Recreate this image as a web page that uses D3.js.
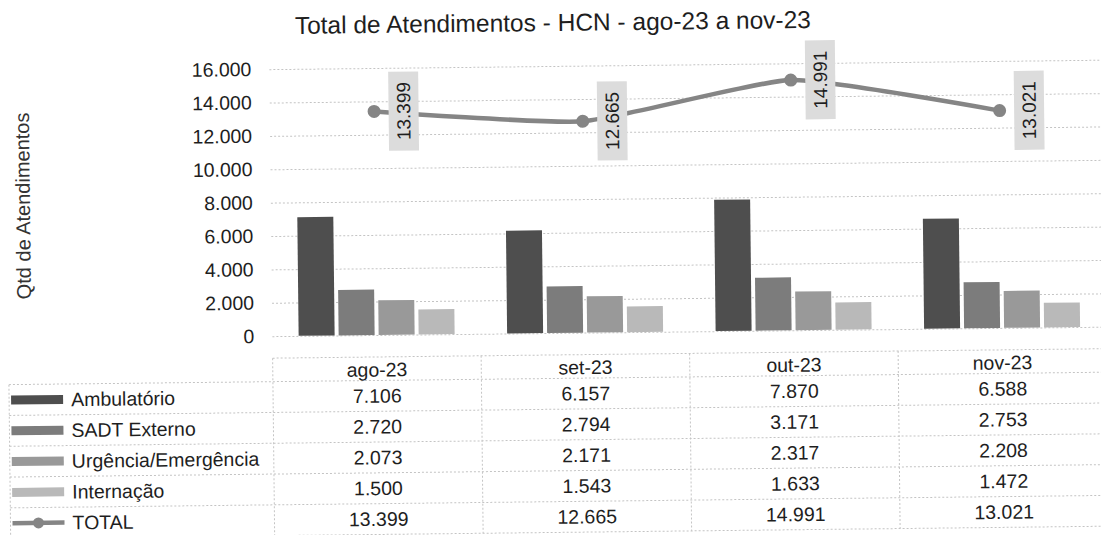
<!DOCTYPE html>
<html><head><meta charset="utf-8">
<script src="https://cdn.jsdelivr.net/npm/d3@7"></script>
<style>
html,body{margin:0;padding:0;background:#fff;}
svg{display:block;font-family:"Liberation Sans",Arial,sans-serif;}
</style></head><body>
<svg id="chart" width="1101" height="535"></svg>
<script>
// ---- data ----
const title = "Total de Atendimentos - HCN - ago-23 a nov-23";
const yTitle = "Qtd de Atendimentos";
const categories = ["ago-23", "set-23", "out-23", "nov-23"];
const seriesNames = ["Ambulatório", "SADT Externo", "Urgência/Emergência", "Internação"];
const ambulatorio = [7106, 6157, 7870, 6588];
const sadtExterno = [2720, 2794, 3171, 2753];
const urgencia = [2073, 2171, 2317, 2208];
const internacao = [1500, 1543, 1633, 1472];
const lineName = "TOTAL";
const total = [13399, 12665, 14991, 13021];
const yTicks = [0, 2000, 4000, 6000, 8000, 10000, 12000, 14000, 16000];

const barSeries = [ambulatorio, sadtExterno, urgencia, internacao];
const barColors = ["#4e4e4e", "#7c7c7c", "#999999", "#b9b9b9"];
const lineColor = "#858585";
const textColor = "#1e1e1e";
const gridColor = "#c4c4c4";

const fmt = d3.formatLocale({decimal: ",", thousands: ".", grouping: [3], currency: ["R$", ""]}).format(",d");

// ---- layout ----
const svg = d3.select("#chart");
const root = svg.append("g").attr("transform", "rotate(-0.65,550,300)");

const plotLeft = 272, plotRight = 1106, yZero = 333, yTopPx = 66;
const x = d3.scaleBand().domain(categories).range([plotLeft, plotRight]);
const bw = x.bandwidth();
const groupW = 156;
const xs = d3.scaleBand().domain(seriesNames).range([(bw - groupW) / 2, (bw + groupW) / 2]).paddingInner(0.1);
const y = d3.scaleLinear().domain([0, 16000]).range([yZero, yTopPx]);

// title
root.append("text").attr("x", 556).attr("y", 31).attr("text-anchor", "middle")
  .attr("font-size", 24.5).attr("fill", textColor).text(title);

// y axis title
root.append("text").attr("transform", "translate(24,200) rotate(-90)")
  .attr("text-anchor", "middle").attr("dy", "0.35em")
  .attr("font-size", 20).attr("fill", "#333").text(yTitle);

// y axis with gridlines
const yAxis = d3.axisLeft(y).tickValues(yTicks).tickFormat(fmt)
  .tickSize(-(plotRight - plotLeft)).tickPadding(18);
const ag = root.append("g").attr("transform", `translate(${plotLeft},0)`).call(yAxis);
ag.select(".domain").remove();
ag.selectAll(".tick line").attr("stroke", gridColor).attr("stroke-dasharray", "2,2");
ag.selectAll(".tick text").attr("font-size", 19.5).attr("fill", textColor)
  .attr("font-family", '"Liberation Sans",Arial,sans-serif');

// bars
const groups = root.append("g").selectAll("g").data(categories).join("g")
  .attr("transform", d => `translate(${x(d)},0)`);
groups.selectAll("rect").data((c, i) => seriesNames.map((s, j) => ({s, j, v: barSeries[j][i]})))
  .join("rect")
  .attr("x", d => xs(d.s)).attr("width", xs.bandwidth())
  .attr("y", d => y(d.v)).attr("height", d => y(0) - y(d.v))
  .attr("fill", d => barColors[d.j]);

// total line
const pts = categories.map((c, i) => [x(c) + bw / 2, y(total[i])]);
root.append("path").datum(pts)
  .attr("d", d3.line().curve(d3.curveCardinal.tension(0.5)))
  .attr("fill", "none").attr("stroke", lineColor).attr("stroke-width", 4.5);
root.append("g").selectAll("circle").data(pts).join("circle")
  .attr("cx", d => d[0]).attr("cy", d => d[1]).attr("r", 6.5).attr("fill", lineColor);

// total data labels
const lab = root.append("g").selectAll("g").data(categories).join("g")
  .attr("transform", (c, i) => `translate(${x(c) + bw / 2 + 29.5},${y(total[i])})`);
lab.append("rect").attr("x", -15).attr("y", -39.5).attr("width", 30).attr("height", 79)
  .attr("fill", "#dcdcdc");
lab.append("text").attr("transform", "rotate(-90)").attr("text-anchor", "middle").attr("dy", "0.35em")
  .attr("font-size", 19).attr("fill", textColor).text((c, i) => fmt(total[i]));

// ---- data table ----
const tLeft = 8, headTop = 355, rowTop = 378.5, rowH = 30.8;
const rowNames = seriesNames.concat([lineName]);
const rowValues = barSeries.concat([total]);
const nRows = rowNames.length;
const tBottom = rowTop + nRows * rowH;
const tg = root.append("g");
const lineStyle = sel => sel.attr("stroke", gridColor).attr("stroke-dasharray", "2,2").attr("stroke-width", 1);

// header top line
tg.append("line").attr("x1", plotLeft).attr("x2", plotRight).attr("y1", headTop).attr("y2", headTop).call(lineStyle);
// row lines
tg.selectAll("line.row").data(d3.range(nRows + 1)).join("line").attr("class", "row")
  .attr("x1", tLeft).attr("x2", plotRight)
  .attr("y1", i => rowTop + i * rowH).attr("y2", i => rowTop + i * rowH).call(lineStyle);
// vertical lines
tg.append("line").attr("x1", tLeft).attr("x2", tLeft).attr("y1", rowTop).attr("y2", tBottom).call(lineStyle);
tg.selectAll("line.col").data(categories).join("line").attr("class", "col")
  .attr("x1", c => x(c)).attr("x2", c => x(c)).attr("y1", headTop).attr("y2", tBottom).call(lineStyle);

// header labels
tg.selectAll("text.head").data(categories).join("text").attr("class", "head")
  .attr("x", c => x(c) + bw / 2).attr("y", (headTop + rowTop) / 2 + 1).attr("dy", "0.35em")
  .attr("text-anchor", "middle").attr("font-size", 19.5).attr("fill", textColor).text(c => c);

// rows
const rows = tg.selectAll("g.r").data(rowNames).join("g").attr("class", "r")
  .attr("transform", (n, i) => `translate(0,${rowTop + i * rowH + rowH / 2})`);
rows.filter((n, i) => i < seriesNames.length).append("rect")
  .attr("x", 10).attr("y", -4.5).attr("width", 52).attr("height", 9)
  .attr("fill", (n, i) => barColors[i]);
const tot = rows.filter(n => n === lineName);
tot.append("line").attr("x1", 10).attr("x2", 62).attr("y1", 0).attr("y2", 0)
  .attr("stroke", lineColor).attr("stroke-width", 4.5);
tot.append("circle").attr("cx", 36).attr("cy", 0).attr("r", 5.5).attr("fill", lineColor);
rows.append("text").attr("x", 70).attr("dy", "0.35em").attr("font-size", 19.5)
  .attr("fill", textColor).text(n => n);
rows.each(function(n, i) {
  d3.select(this).selectAll("text.v").data(rowValues[i]).join("text").attr("class", "v")
    .attr("x", (v, k) => x(categories[k]) + bw / 2).attr("dy", "0.35em")
    .attr("text-anchor", "middle").attr("font-size", 19.5).attr("fill", textColor)
    .text(v => fmt(v));
});
</script>
</body></html>
